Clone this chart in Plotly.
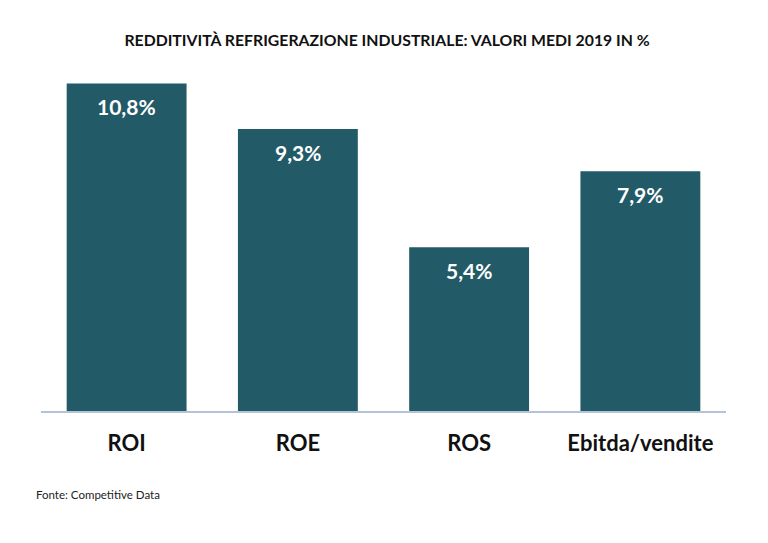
import plotly.graph_objects as go

categories = ["ROI", "ROE", "ROS", "Ebitda/vendite"]
values = [10.8, 9.3, 5.4, 7.9]
labels = ["10,8%", "9,3%", "5,4%", "7,9%"]

FONT = "Lato, 'Open Sans', sans-serif"
BAR = "#235a67"

fig = go.Figure()
fig.add_trace(go.Bar(x=categories, y=values, marker=dict(color=BAR, line=dict(width=0)),
                     hoverinfo="skip"))

for c, v, t in zip(categories, values, labels):
    fig.add_annotation(x=c, y=v, text="<b>%s</b>" % t, showarrow=False,
                       yanchor="top", yshift=-9,
                       font=dict(family=FONT, size=21, color="white"))

fig.add_annotation(xref="paper", yref="paper", x=-0.01, y=-0.23, xanchor="left",
                   yanchor="middle", showarrow=False, text="Fonte: Competitive Data",
                   font=dict(family=FONT, size=11.5, color="#222222"))

fig.update_layout(
    width=768, height=543,
    margin=dict(l=41, r=42, t=47, b=132),
    paper_bgcolor="white", plot_bgcolor="white",
    bargap=0.3,
    showlegend=False,
    title=dict(text="<b>REDDITIVITÀ REFRIGERAZIONE INDUSTRIALE: VALORI MEDI 2019 IN %</b>",
               x=0.504, xanchor="center", y=1 - 40 / 543, yanchor="middle",
               xref="container", yref="container",
               font=dict(family=FONT, size=15.8, color="#111111")),
    xaxis=dict(showline=True, linecolor="#b4c3d6", linewidth=1.5, ticks="",
               tickfont=dict(family=FONT, size=22, color="#111111"),
               ticklabelstandoff=12, showgrid=False),
    yaxis=dict(range=[0, 12], visible=False, showgrid=False, zeroline=False),
)
fig.update_xaxes(tickvals=categories, ticktext=["<b>%s</b>" % c for c in categories])

fig.write_html("out.html")
